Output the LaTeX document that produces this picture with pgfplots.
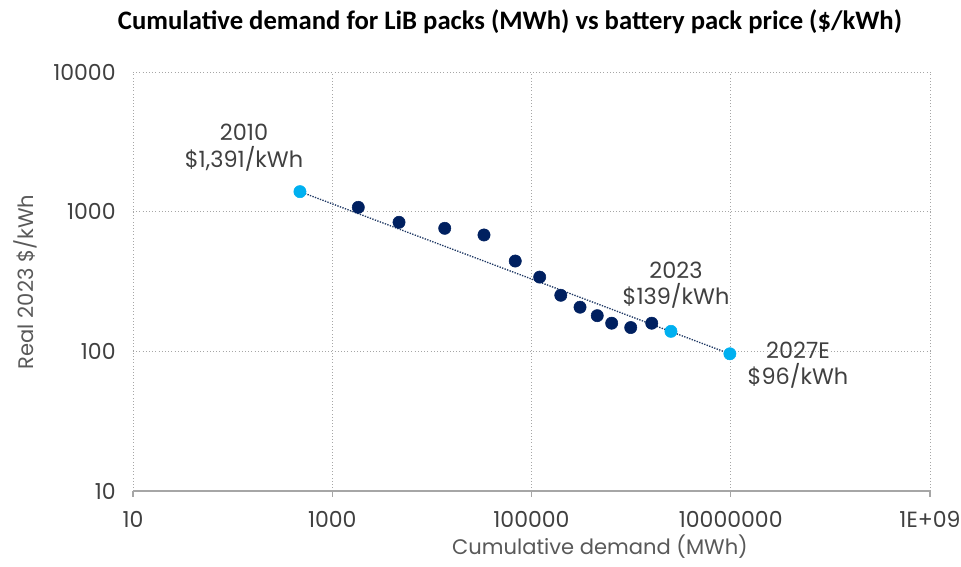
\documentclass[border=0pt]{standalone}
\usepackage{pgfplots}
\pgfplotsset{compat=1.18}
\usepackage{fontspec}
\setmainfont{Poppins}
\newfontfamily\titlefont{Carlito}
\definecolor{navy}{HTML}{002060}
\definecolor{lblue}{HTML}{00B0F0}
\definecolor{trend}{HTML}{1F3864}
\definecolor{tickc}{HTML}{404040}
\definecolor{labc}{HTML}{595959}
\definecolor{gridc}{HTML}{A6A6A6}
\begin{document}
\begin{tikzpicture}
\path[use as bounding box] (-99.75pt,-57pt) rectangle (621pt,368.25pt);
\begin{axis}[
  scale only axis,
  width=597.75pt, height=314.25pt,
  xmode=log, ymode=log,
  xmin=10, xmax=1e9, ymin=10, ymax=10000,
  xtick={10,1000,100000,10000000,1000000000},
  xticklabels={10,1000,100000,10000000,1E+09},
  ytick={10,100,1000,10000},
  yticklabels={10,100,1000,10000},
  xminorticks=false, yminorticks=false,
  axis x line=bottom, axis y line=left,
  x axis line style={-, draw=gridc, line width=1pt},
  y axis line style={draw=none},
  xmajorgrids, ymajorgrids,
  major grid style={gridc, dotted, line width=0.6pt},
  tick align=outside,
  major tick length=4.5pt,
  xtick style={draw=gridc, solid, line width=0.8pt},
  ytick style={draw=none},
  tick label style={font=\fontsize{16.5}{18}\selectfont, text=tickc},
  xticklabel style={yshift=-7pt},
  yticklabel style={xshift=-5pt},
  clip=false,
]
\addplot[trend, densely dotted, line width=1pt] coordinates {(474,1391) (1.1e7,93)};
\addplot[only marks, mark=*, mark size=4.6pt, mark options={fill=navy, draw=navy}] coordinates {
(1826,1074) (4680,839) (13460,760) (33350,681) (68700,443) (120800,340)
(196800,252) (307000,207) (457000,180) (638000,159) (991000,148) (1610000,159)
};
\addplot[only marks, mark=*, mark size=4.6pt, mark options={fill=lblue, draw=lblue}] coordinates {
(474,1391) (2510000,139) (9800000,96)
};
\node[align=center, text=tickc, font=\fontsize{16.8}{20}\selectfont] at (axis cs:130,2860) {2010\\\$1,391/kWh};
\node[align=center, text=tickc, font=\fontsize{16.8}{20}\selectfont] at (axis cs:2820000,298) {2023\\\$139/kWh};
\node[align=center, text=tickc, font=\fontsize{16.8}{20}\selectfont] at (axis cs:47300000,79.8) {2027E\\\$96/kWh};
\end{axis}
\node[font=\titlefont\bfseries\fontsize{20}{24}\selectfont, text=black] at (282.75pt,351.75pt) {Cumulative demand for LiB packs (MWh) vs battery pack price (\$/kWh)};
\node[font=\fontsize{15.8}{18}\selectfont, text=labc] at (350.25pt,-41.5pt) {Cumulative demand (MWh)};
\node[font=\fontsize{15.8}{18}\selectfont, text=labc, rotate=90] at (-81pt,156.75pt) {Real 2023 \$/kWh};
\end{tikzpicture}
\end{document}
